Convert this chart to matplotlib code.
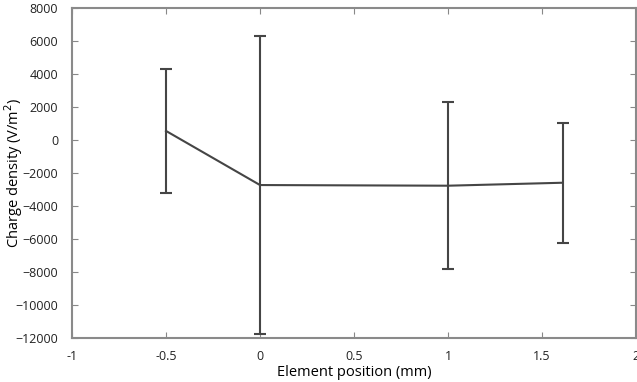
import matplotlib
matplotlib.use("Agg")
import matplotlib.pyplot as plt

plt.rcParams['font.family'] = ['Open Sans', 'DejaVu Sans']

positions = [-0.5, 0.0, 1.0, 1.61]
density = [550, -2730, -2770, -2590]
errors = [3750, 9020, 5060, 3640]

xticks = [-1, -0.5, 0, 0.5, 1, 1.5, 2]
xlabels = ["-1", "-0.5", "0", "0.5", "1", "1.5", "2"]
yticks = list(range(-12000, 8001, 2000))

fig = plt.figure(figsize=(6.37, 3.82), dpi=100)
ax = fig.add_axes([72/637, 44/382, 564/637, 330/382])

ax.errorbar(positions, density, yerr=errors, color="#454545", lw=1.5,
            elinewidth=1.5, capsize=4, capthick=1.5)

ax.set_xlim(-1, 2)
ax.set_ylim(-12000, 8000)
ax.set_xticks(xticks)
ax.set_xticklabels(xlabels)
ax.set_yticks(yticks)
ax.tick_params(direction="in", top=True, right=True, labelsize=9,
               labelcolor="#222222", color="#888888", length=4, width=0.8)
ax.tick_params(axis="y", pad=10)
ax.tick_params(axis="x", pad=9)
for s in ax.spines.values():
    s.set_color("#8a8a8a")
    s.set_linewidth(1.5)

ax.set_xlabel("Element position (mm)", fontsize=10.5, labelpad=1)
ax.set_ylabel("Charge density (V/m$^2$)", fontsize=10.5)
ax.yaxis.set_label_coords(-0.083, 0.5)

fig.savefig("out.png", dpi=100)
